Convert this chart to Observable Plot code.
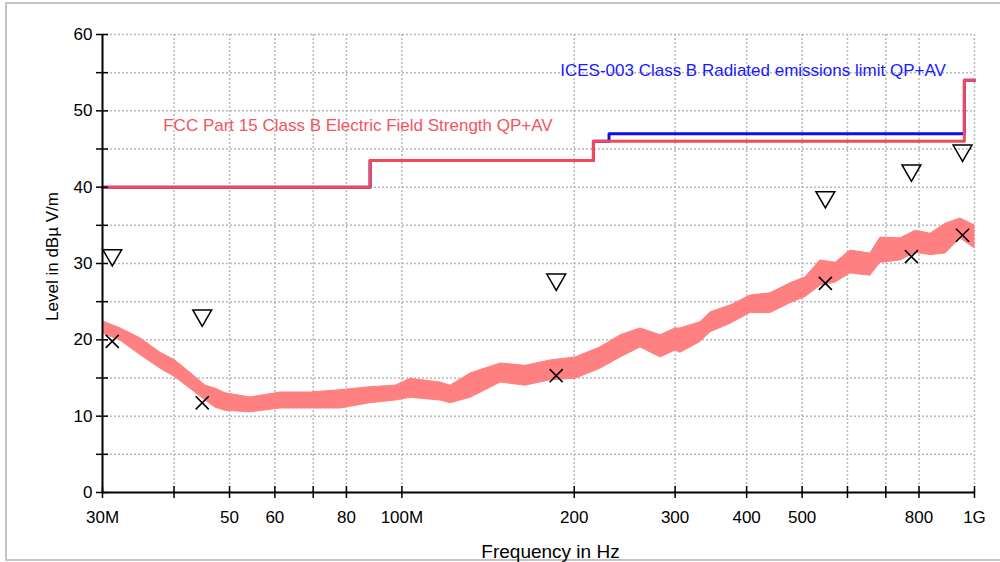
<!DOCTYPE html>
<html>
<head>
<meta charset="utf-8">
<script src="https://cdn.jsdelivr.net/npm/d3@7"></script>
<script src="https://cdn.jsdelivr.net/npm/@observablehq/plot@0.6"></script>
<style>
  html, body { margin: 0; padding: 0; background: #fff; width: 1000px; height: 562px; overflow: hidden; }
  #frame { position: absolute; left: 5px; top: 2px; width: 1000px; height: 555px;
           border-left: 2px solid #c4c4c4; border-top: 2px solid #c4c4c4; border-bottom: 2px solid #c4c4c4; }
  #chart { position: absolute; left: 0; top: 0; }
</style>
</head>
<body>
<div id="frame"></div>
<div id="chart"></div>
<script>
// ---- axis definitions ----
const xDomain = [30, 1000];             // MHz
const yDomain = [0, 60];                // dBµV/m
const xTicks = [30, 40, 50, 60, 70, 80, 100, 200, 300, 400, 500, 600, 700, 800, 1000];
const xTickLabels = ["30M", "", "50", "60", "", "80", "100M", "200", "300", "400", "500", "", "", "800", "1G"];
const yTicks = [0, 5, 10, 15, 20, 25, 30, 35, 40, 45, 50, 55, 60];
const yLabelTicks = [0, 10, 20, 30, 40, 50, 60];

// ---- limit lines (step-after) ----
const fccFreq = [30, 88, 216, 960, 1000];
const fccLevel = [40, 43.5, 46, 54, 54];
const icesFreq = [30, 88, 216, 230, 960, 1000];
const icesLevel = [40, 43.5, 46, 47, 54, 54];

const traceFreq = [30.1, 32.25, 34.95, 37.9, 40.2, 42.7, 45.4, 47.3, 49.2, 54.4, 61.4, 69.2, 78.1, 88.1, 97.5,
  103.5, 116.8, 121.6, 131.8, 148.7, 164.4, 181.8, 201, 222, 241, 261, 283, 300.5, 306.5, 332, 346, 375,
  406, 440, 477, 507, 538, 572, 607, 658, 685, 743, 789, 838, 890, 945, 1000];
const traceHigh = [22.4, 21.5, 20.2, 18.3, 17.3, 15.7, 14.0, 13.6, 13.0, 12.45, 13.1, 13.1, 13.4, 13.8, 14.0,
  14.9, 14.4, 14.0, 15.6, 16.9, 16.6, 17.3, 17.7, 19.0, 20.6, 21.5, 20.6, 21.5, 21.5, 22.3, 23.6, 24.5,
  25.8, 26.1, 27.4, 28.2, 30.4, 30.1, 31.7, 31.3, 33.4, 33.3, 34.3, 33.9, 35.2, 35.9, 35.0];
const traceLow = [20.8, 19.9, 18.0, 16.2, 15.1, 13.6, 12.05, 11.1, 10.7, 10.5, 11.0, 11.0, 11.0, 11.7, 12.05,
  12.4, 12.05, 11.7, 12.4, 14.4, 14.0, 14.7, 14.9, 16.2, 17.7, 19.0, 17.7, 18.6, 18.3, 19.7, 21.0, 22.1,
  23.5, 23.5, 24.8, 25.6, 27.1, 27.5, 28.7, 28.4, 30.1, 30.4, 31.4, 31.1, 31.3, 33.3, 32.0];

// ---- final measurement points ----
const peakFreq = [31.2, 44.8, 186, 549, 776, 953];
const qpLevel = [31.1, 23.2, 27.9, 38.7, 42.2, 44.8];   // triangles
const avLevel = [19.8, 11.75, 15.3, 27.4, 30.9, 33.7];  // crosses

// ---- labels ----
const labelText = ["ICES-003 Class B Radiated emissions limit QP+AV", "FCC Part 15 Class B Electric Field Strength QP+AV"];
const labelFreq = [189, 38.3];
const labelLevel = [54.6, 47.4];
const labelColor = ["#1a1aff", "#f25560"];

// ---- tables ----
const fcc = fccFreq.map((f, i) => ({f, v: fccLevel[i]}));
const ices = icesFreq.map((f, i) => ({f, v: icesLevel[i]}));
const trace = traceFreq.map((f, i) => ({f, hi: traceHigh[i], lo: traceLow[i]}));
const peaks = peakFreq.map((f, i) => ({f, qp: qpLevel[i], av: avLevel[i]}));
const labels = labelText.map((t, i) => ({t, f: labelFreq[i], v: labelLevel[i], c: labelColor[i]}));
const xLabelRows = xTicks.map((t, i) => ({t, s: xTickLabels[i]}));

const grid = {stroke: "#b8b8b8", strokeWidth: 1.5, strokeDasharray: "2,2", strokeOpacity: 1};

const fig = Plot.plot({
  width: 1000, height: 562,
  marginLeft: 102, marginRight: 26, marginTop: 34, marginBottom: 70,
  x: {type: "log", domain: xDomain, axis: null},
  y: {domain: yDomain},
  style: {fontFamily: "'Liberation Sans', Arial, sans-serif", fontSize: "17px", color: "#000", background: "transparent", overflow: "visible"},
  marks: [
    Plot.ruleY(yTicks.slice(1), {y: d => d, ...grid}),
    Plot.ruleX(xTicks.slice(1), {x: d => d, ...grid}),
    Plot.areaY(trace, {x: "f", y1: "lo", y2: "hi", fill: "#ff8080", stroke: "#ff8080", strokeWidth: 1}),
    Plot.line(ices, {x: "f", y: "v", curve: "step-after", stroke: "#1010e6", strokeWidth: 3}),
    Plot.line(fcc, {x: "f", y: "v", curve: "step-after", stroke: "#f24a58", strokeWidth: 3}),
    Plot.dot(peaks, {x: "f", y: "qp", symbol: "triangle", r: 7, rotate: 180, fill: "none", stroke: "#000", strokeWidth: 1.5}),
    Plot.dot(peaks, {x: "f", y: "av", symbol: "times", r: 6, stroke: "#000", strokeWidth: 1.6}),
    Plot.text(labels, {x: "f", y: "v", text: "t", fill: "c", textAnchor: "start", lineAnchor: "bottom", fontSize: 17, letterSpacing: "0.1px"}),
    // axis lines
    Plot.ruleX([xDomain[0]], {stroke: "#000", strokeWidth: 2}),
    Plot.ruleY([yDomain[0]], {stroke: "#000", strokeWidth: 2}),
    // crossing ticks
    Plot.ruleX(xTicks, {x: d => d, y1: yDomain[0], y2: yDomain[0], insetTop: -6, insetBottom: -6, stroke: "#000", strokeWidth: 1.5}),
    Plot.ruleY(yTicks, {y: d => d, x1: xDomain[0], x2: xDomain[0], insetLeft: -6, insetRight: -6, stroke: "#000", strokeWidth: 1.5}),
    // tick labels
    Plot.text(xLabelRows, {x: "t", text: "s", frameAnchor: "bottom", lineAnchor: "top", dy: 18, fontSize: 17, fill: "#000"}),
    Plot.axisY({ticks: yLabelTicks, tickSize: 0, tickPadding: 10, label: null, fontSize: 17}),
    Plot.text(["Frequency in Hz"], {frameAnchor: "bottom", lineAnchor: "bottom", dx: 12, dy: 65, fontSize: 19, letterSpacing: "2px"}),
    Plot.text(["Level in dBµ V/m"], {frameAnchor: "left", textAnchor: "middle", rotate: -90, dx: -50, dy: -7, fontSize: 17})
  ]
});
document.getElementById("chart").appendChild(fig);
</script>
</body>
</html>
